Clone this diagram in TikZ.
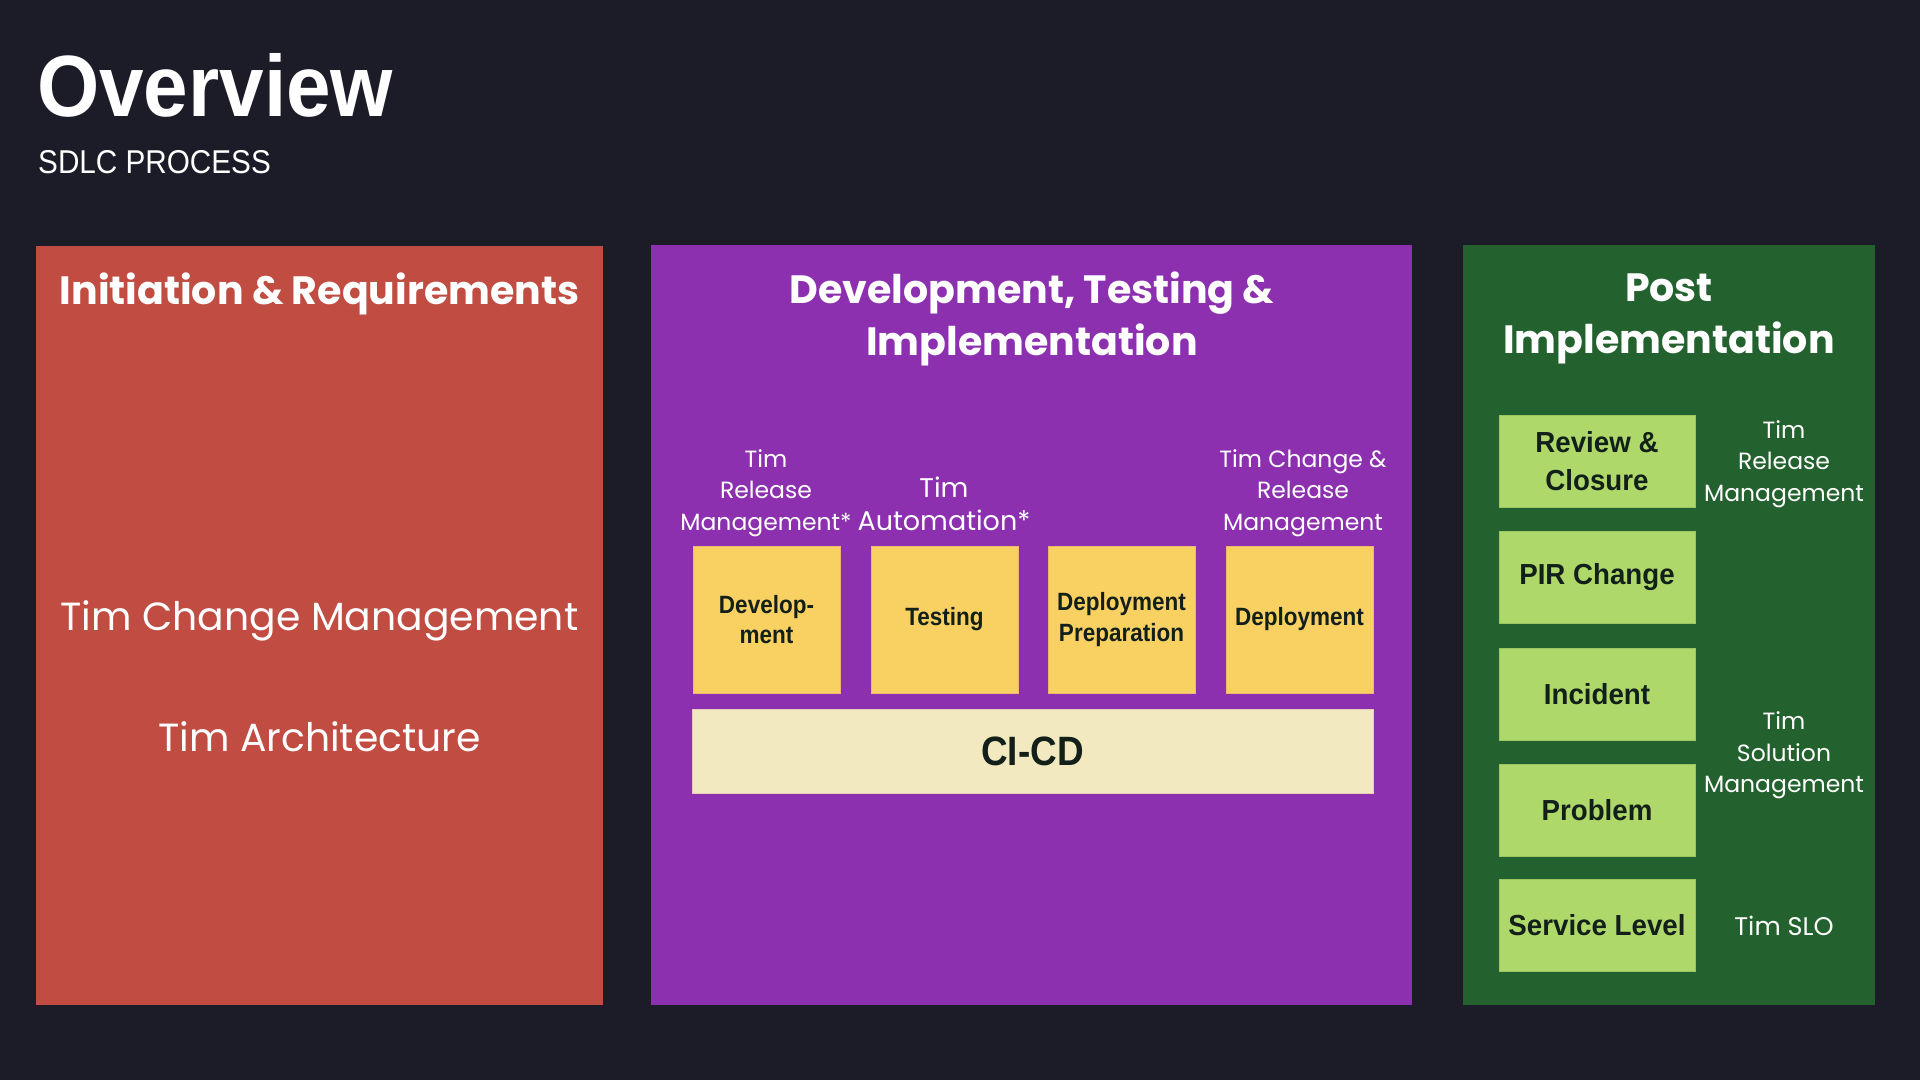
\documentclass[tikz,border=0pt]{standalone}
\usepackage{fontspec}
\setmainfont{Poppins}
\newfontfamily\headfont[FakeStretch=0.92]{Liberation Sans}
\newfontfamily\subfont[FakeStretch=0.9]{Liberation Sans}
\newfontfamily\boxfont[FakeStretch=0.9]{Liberation Sans}
\newfontfamily\gboxfont[FakeStretch=0.955]{Liberation Sans}
\newfontfamily\labelfont{Poppins}

\definecolor{bg}{HTML}{1B1C27}
\definecolor{redpanel}{HTML}{C04C42}
\definecolor{purplepanel}{HTML}{8C30B0}
\definecolor{greenpanel}{HTML}{23622E}
\definecolor{stepyellow}{HTML}{F9D162}
\definecolor{cicdfill}{HTML}{F3E9C0}
\definecolor{stepgreen}{HTML}{AED86A}
\definecolor{darktext}{HTML}{13201A}

\tikzset{
  ptitle/.style={text=white, align=center, inner sep=0pt,
    font=\labelfont\bfseries\fontsize{39.5}{52}\selectfont},
  owner/.style={text=white, align=center, inner sep=0pt,
    font=\labelfont\fontsize{39.3}{50}\selectfont},
  note/.style={text=white, align=center, inner sep=0pt,
    font=\labelfont\fontsize{23.5}{31.5}\selectfont},
  ybox/.style={rectangle, fill=stepyellow, draw=stepyellow!85!purplepanel, line width=0.8pt,
    minimum width=147pt, minimum height=147pt, inner sep=0pt, align=center,
    text=darktext, font=\boxfont\bfseries\fontsize{25}{30.5}\selectfont},
  gbox/.style={rectangle, fill=stepgreen, draw=stepgreen!85!greenpanel, line width=0.8pt,
    minimum width=196pt, minimum height=92pt, inner sep=0pt, align=center,
    text=darktext, font=\gboxfont\bfseries\fontsize{29}{38}\selectfont},
}

\begin{document}
\begin{tikzpicture}[x=1pt, y=-1pt]
  % canvas
  \fill[bg] (0,0) rectangle (1920,1080);
  \useasboundingbox (0,0) rectangle (1920,1080);

  % heading
  \node[anchor=base west, inner sep=0pt, text=white,
        font=\headfont\bfseries\fontsize{87}{87}\selectfont] (title) at (37,116) {Overview};
  \node[anchor=base west, inner sep=0pt, text=white,
        font=\subfont\fontsize{33}{33}\selectfont] (subtitle) at (38,173) {SDLC PROCESS};

  % phase panels
  \fill[redpanel] (36,246) rectangle (603,1005);
  \fill[purplepanel] (651,245) rectangle (1412,1005);
  \fill[greenpanel] (1463,245) rectangle (1875,1005);

  % initiation & requirements
  \node[ptitle] (inittitle) at (319.5,294) {Initiation \& Requirements};
  \node[owner] (ownchange) at (319.5,621) {Tim Change Management};
  \node[owner] (ownarch) at (319.5,737) {Tim Architecture};

  % development, testing & implementation
  \node[ptitle] (devtitle) at (1032,319) {Development, Testing \&\\Implementation};
  \node[ybox] (dev) at (766.5,619.5) {Develop-\\ment};
  \node[ybox] (test) at (944.5,619.5) {Testing};
  \node[ybox] (prep) at (1121.5,619.5) {Deployment\\Preparation};
  \node[ybox] (deploy) at (1299.5,619.5) {Deployment};
  \node[rectangle, fill=cicdfill, draw=cicdfill!85!purplepanel, line width=0.8pt,
        minimum width=681pt, minimum height=84pt, inner sep=0pt,
        text=darktext, font=\subfont\bfseries\fontsize{41}{41}\selectfont] (cicd) at (1032.5,751) {CI-CD};

  \node[note, anchor=south] (ndev) at (766,537) {Tim\\Release\\Management*};
  \node[note, anchor=south, font=\labelfont\fontsize{27}{33}\selectfont] (ntest) at (944,530.5) {Tim\\Automation*};
  \node[note, anchor=south] (ndeploy) at (1303,537) {Tim Change \&\\Release\\Management};

  % post implementation
  \node[ptitle] (posttitle) at (1669,319) {Post\\Implementation};
  \node[gbox] (review) at (1597,461) {Review \&\\Closure};
  \node[gbox] (pir) at (1597,577) {PIR Change};
  \node[gbox] (incident) at (1597,694) {Incident};
  \node[gbox] (problem) at (1597,810) {Problem};
  \node[gbox] (slo) at (1597,925.5) {Service Level};

  \node[note] (nrelease) at (1784,464) {Tim\\Release\\Management};
  \node[note] (nsolution) at (1784,755.5) {Tim\\Solution\\Management};
  \node[note, font=\labelfont\fontsize{25.5}{31.5}\selectfont] (nslo) at (1784,926) {Tim SLO};
\end{tikzpicture}
\end{document}
